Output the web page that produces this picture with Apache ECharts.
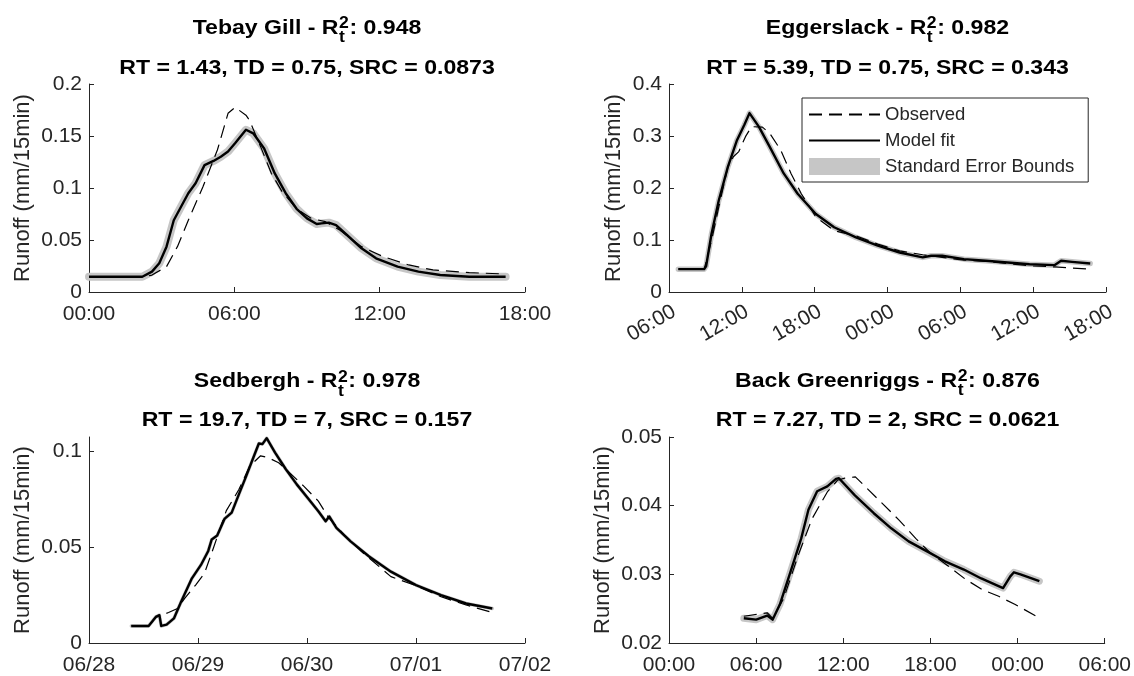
<!DOCTYPE html>
<html><head><meta charset="utf-8">
<script src="https://cdn.jsdelivr.net/npm/echarts@6/dist/echarts.min.js"></script>
<style>html,body{margin:0;padding:0;background:#fff}#c{width:1134px;height:676px}</style>
</head><body><div id="c"></div>
<script>
// ---------- Data ----------
// Tebay Gill (x: hours from 00:00)
const tebayModT = [0, 1, 2.2, 2.6, 2.9, 3.2, 3.5, 3.8, 4.1, 4.4, 4.77, 5.14, 5.44, 5.74, 6.03, 6.48, 6.56, 6.78, 7.23, 7.67, 8.12, 8.57, 9.0, 9.4, 9.6, 9.9, 10.2, 10.65, 11.25, 11.85, 12.74, 13.6, 14.5, 15.7, 17.2];
const tebayModQ = [0.0147, 0.0147, 0.0147, 0.0196, 0.0276, 0.0436, 0.069, 0.082, 0.095, 0.1045, 0.122, 0.126, 0.130, 0.135, 0.143, 0.156, 0.1564, 0.1526, 0.138, 0.114, 0.095, 0.080, 0.0708, 0.0654, 0.066, 0.0667, 0.0644, 0.0548, 0.042, 0.0324, 0.0244, 0.0196, 0.0163, 0.0147, 0.0147];
const tebayObsT = [0, 2.3, 2.6, 3.2, 3.65, 4.1, 4.7, 5.3, 5.74, 6.03, 6.48, 6.63, 7.08, 7.53, 7.97, 8.57, 9.17, 9.76, 10.35, 11.25, 12.15, 13.2, 14.2, 15.7, 17.2];
const tebayObsQ = [0.0147, 0.0147, 0.0163, 0.0244, 0.0436, 0.069, 0.101, 0.1365, 0.1718, 0.1776, 0.170, 0.165, 0.140, 0.114, 0.0965, 0.080, 0.0708, 0.0676, 0.0596, 0.0436, 0.034, 0.026, 0.0212, 0.0186, 0.0173];

// Eggerslack (x: hours from 00:00 of day 1)
const eggModT = [6.77, 8.9, 9.06, 9.5, 10.1, 10.85, 11.6, 12.2, 12.63, 13.4, 14.3, 15.45, 16.6, 18.1, 19.6, 21.4, 23.2, 25, 26.9, 27.6, 28.5, 30.3, 32.1, 33.9, 35.7, 37.75, 38.3, 39.2, 40.7];
const eggModQ = [0.0439, 0.0439, 0.050, 0.1116, 0.176, 0.2406, 0.292, 0.321, 0.344, 0.318, 0.279, 0.228, 0.189, 0.150, 0.1245, 0.105, 0.089, 0.076, 0.0665, 0.0697, 0.0697, 0.0632, 0.060, 0.0568, 0.0535, 0.0516, 0.060, 0.058, 0.0548];
const eggObsT = [6.77, 8.9, 9.5, 10.1, 10.85, 11.3, 11.75, 12.3, 12.8, 13.7, 14.3, 15.2, 16.05, 16.9, 18.1, 19.6, 21.4, 23.2, 25, 26.9, 28.5, 30.3, 32.1, 33.9, 36, 37.75, 40.7];
const eggObsQ = [0.0439, 0.0439, 0.0987, 0.163, 0.2406, 0.26, 0.27, 0.2987, 0.318, 0.317, 0.305, 0.273, 0.228, 0.189, 0.144, 0.118, 0.108, 0.092, 0.079, 0.0716, 0.0665, 0.0613, 0.0587, 0.0548, 0.050, 0.0484, 0.0439];

// Sedbergh (x: days from 06/28)
const sedModT = [0.388, 0.547, 0.613, 0.646, 0.663, 0.712, 0.779, 0.845, 0.944, 1.027, 1.094, 1.126, 1.176, 1.243, 1.309, 1.375, 1.442, 1.508, 1.558, 1.591, 1.63, 1.707, 1.806, 1.906, 2.005, 2.104, 2.171, 2.204, 2.27, 2.4, 2.57, 2.77, 3.0, 3.23, 3.46, 3.7];
const sedModQ = [0.0089, 0.0089, 0.0136, 0.0145, 0.0089, 0.0096, 0.0128, 0.0215, 0.0337, 0.0407, 0.048, 0.054, 0.056, 0.0647, 0.068, 0.0775, 0.087, 0.0967, 0.104, 0.1037, 0.1068, 0.0993, 0.0906, 0.0827, 0.0757, 0.0687, 0.0635, 0.066, 0.060, 0.053, 0.0451, 0.0372, 0.0302, 0.025, 0.0206, 0.018];
const sedObsT = [0.388, 0.547, 0.613, 0.646, 0.73, 0.812, 0.878, 0.978, 1.06, 1.143, 1.26, 1.375, 1.475, 1.574, 1.64, 1.74, 1.84, 1.97, 2.104, 2.2, 2.34, 2.5, 2.77, 3.0, 3.23, 3.46, 3.7];
const sedObsQ = [0.0089, 0.0089, 0.0136, 0.0140, 0.0159, 0.018, 0.0233, 0.0302, 0.0364, 0.0498, 0.069, 0.080, 0.0923, 0.0976, 0.0967, 0.094, 0.0888, 0.0818, 0.074, 0.0652, 0.0565, 0.0477, 0.0346, 0.0299, 0.0241, 0.0198, 0.0159];

// Back Greenriggs (x: hours from 00:00)
const bgModT = [5.15, 6.0, 6.76, 7.13, 7.63, 8.37, 9.1, 9.6, 10.2, 10.9, 11.5, 11.7, 12.8, 14.1, 15.3, 16.5, 17.8, 19.0, 20.3, 21.5, 23.0, 23.5, 23.75, 24.2, 25.5];
const bgModQ = [0.0236, 0.0234, 0.0240, 0.0234, 0.0256, 0.0304, 0.0352, 0.0394, 0.0421, 0.0428, 0.0439, 0.0440, 0.0415, 0.0389, 0.0367, 0.0348, 0.0333, 0.0319, 0.0307, 0.0294, 0.028, 0.0297, 0.0303, 0.0300, 0.0290];
const bgObsT = [5.15, 6.76, 7.13, 7.9, 8.9, 9.85, 10.9, 11.6, 12.1, 12.83, 13.55, 14.7, 15.84, 17.0, 18.0, 19.3, 20.4, 21.55, 22.7, 23.84, 25.55];
const bgObsQ = [0.0239, 0.0244, 0.0236, 0.0265, 0.0328, 0.0381, 0.0420, 0.0437, 0.0440, 0.0442, 0.0427, 0.0403, 0.0379, 0.0352, 0.0331, 0.0311, 0.0293, 0.0278, 0.0268, 0.0256, 0.0236];

// Tick labels
const xLabels1 = ['00:00', '06:00', '12:00', '18:00'];
const xLabels2 = ['06:00', '12:00', '18:00', '00:00', '06:00', '12:00', '18:00'];
const xLabels3 = ['06/28', '06/29', '06/30', '07/01', '07/02'];
const xLabels4 = ['00:00', '06:00', '12:00', '18:00', '00:00', '06:00'];
const yTicks3 = [0, 0.05, 0.1];

// Titles
const stationNames = ['Tebay Gill', 'Eggerslack', 'Sedbergh', 'Back Greenriggs'];
const r2Values = ['0.948', '0.982', '0.978', '0.876'];
const paramLines = ['RT = 1.43, TD = 0.75, SRC = 0.0873', 'RT = 5.39, TD = 0.75, SRC = 0.343', 'RT = 19.7, TD = 7, SRC = 0.157', 'RT = 7.27, TD = 2, SRC = 0.0621'];
const yLabel = 'Runoff (mm/15min)';
const seriesNames = ['Observed', 'Model fit', 'Standard Error Bounds'];

// ---------- Layout ----------
const FONT = '"Liberation Sans", Arial, Helvetica, sans-serif';
const TXT = '#262626';
const grids = [
  {left: 89, top: 84, width: 436, height: 208},
  {left: 669, top: 84, width: 437, height: 208},
  {left: 89, top: 437, width: 436, height: 206},
  {left: 669, top: 437, width: 437, height: 206}
];
const xCfg = [
  {min: 0, max: 18, interval: 6, labels: xLabels1, rotate: 0},
  {min: 6, max: 42, interval: 6, labels: xLabels2, rotate: 30},
  {min: 0, max: 4, interval: 1, labels: xLabels3, rotate: 0},
  {min: 0, max: 30, interval: 6, labels: xLabels4, rotate: 0}
];
const yCfg = [
  {min: 0, max: 0.2, interval: 0.05, gap: 55},
  {min: 0, max: 0.4, interval: 0.1, gap: 44},
  {min: 0, max: 0.1074, interval: 0.05, gap: 55},
  {min: 0.02, max: 0.05, interval: 0.01, gap: 55}
];
const bandWidths = [8, 5.5, 3.5, 7];
const titleY = [[28, 68.5], [28, 68.5], [381.5, 420.5], [381, 420.5]];

const panels = [
  [tebayObsT, tebayObsQ, tebayModT, tebayModQ],
  [eggObsT, eggObsQ, eggModT, eggModQ],
  [sedObsT, sedObsQ, sedModT, sedModQ],
  [bgObsT, bgObsQ, bgModT, bgModQ]
];
const zip = (a, b) => a.map((v, i) => [v, b[i]]);

const xAxes = xCfg.map((c, i) => {
  const lab = {fontSize: 21, color: TXT, fontFamily: FONT, margin: 12,
    formatter: v => { const k = Math.round((v - c.min) / c.interval); return c.labels[k] !== undefined ? c.labels[k] : ''; }};
  if (c.rotate) { lab.rotate = c.rotate; lab.align = 'right'; lab.verticalAlign = 'top'; lab.margin = 9; }
  return {
    type: 'value', gridIndex: i, min: c.min, max: c.max, interval: c.interval,
    axisLine: {show: true, onZero: false, lineStyle: {color: TXT, width: 1}},
    axisTick: {show: true, inside: true, length: 5, lineStyle: {color: TXT}},
    splitLine: {show: false},
    axisLabel: lab
  };
});
const yAxes = yCfg.map((c, i) => {
  const ax = {
    type: 'value', gridIndex: i, min: c.min, max: c.max, interval: c.interval,
    name: yLabel, nameLocation: 'middle', nameGap: c.gap, nameRotate: 90,
    nameTextStyle: {fontSize: 22, color: TXT, fontFamily: FONT},
    axisLine: {show: true, onZero: false, lineStyle: {color: TXT, width: 1}},
    axisTick: {show: true, inside: true, length: 5, lineStyle: {color: TXT}},
    splitLine: {show: false},
    axisLabel: {fontSize: 21, color: TXT, fontFamily: FONT, margin: 7}
  };
  if (i === 2) {
    ax.axisLabel.customValues = yTicks3;
    ax.axisTick.customValues = yTicks3;
  }
  return ax;
});

const series = [];
panels.forEach((p, i) => {
  series.push({type: 'line', name: seriesNames[2], xAxisIndex: i, yAxisIndex: i, data: zip(p[2], p[3]),
    symbol: 'none', silent: true, z: 1,
    lineStyle: {color: '#c6c6c6', width: bandWidths[i], cap: 'round', join: 'round'}});
  series.push({type: 'line', name: seriesNames[0], xAxisIndex: i, yAxisIndex: i, data: zip(p[0], p[1]),
    symbol: 'none', silent: true, z: 2, itemStyle: {color: '#000', opacity: 0},
    lineStyle: {color: '#000', width: 1.2, type: [13, 7]}});
  series.push({type: 'line', name: seriesNames[1], xAxisIndex: i, yAxisIndex: i, data: zip(p[2], p[3]),
    symbol: 'none', silent: true, z: 3, itemStyle: {color: '#000', opacity: 0},
    lineStyle: {color: '#000', width: 2.4, join: 'round'}});
});

// ---------- Titles (with stacked super/subscript) ----------
const mctx = document.createElement('canvas').getContext('2d');
function measure(t, f) { mctx.font = f; return mctx.measureText(t).width; }
const SX = 1.1; // horizontal stretch of the reference text
const fMain = 'bold 21px ' + FONT;
const fSmall = 'bold 16px ' + FONT;
const graphics = [];
grids.forEach((g, i) => {
  const cx = g.left + g.width / 2;
  const [y1, y2] = titleY[i];
  const pre = stationNames[i] + ' - R';
  const post = ': ' + r2Values[i];
  const wPre = measure(pre, fMain) * SX;
  const wS = (Math.max(measure('2', fSmall), measure('t', fSmall)) + 1) * SX;
  const wPost = measure(post, fMain) * SX;
  const x0 = cx - (wPre + wS + wPost) / 2;
  const base = {fill: '#000', verticalAlign: 'middle', align: 'left'};
  graphics.push({type: 'text', x: x0, y: y1, scaleX: SX, style: Object.assign({text: pre, font: fMain}, base)});
  graphics.push({type: 'text', x: x0 + wPre + 0.5, y: y1 - 4, scaleX: SX, style: Object.assign({text: '2', font: fSmall}, base)});
  graphics.push({type: 'text', x: x0 + wPre + 0.5, y: y1 + 10, scaleX: SX, style: Object.assign({text: 't', font: fSmall}, base)});
  graphics.push({type: 'text', x: x0 + wPre + wS, y: y1, scaleX: SX, style: Object.assign({text: post, font: fMain}, base)});
  graphics.push({type: 'text', x: cx, y: y2, scaleX: SX, style: {text: paramLines[i], font: fMain, fill: '#000', align: 'center', verticalAlign: 'middle'}});
});

const chart = echarts.init(document.getElementById('c'), null, {renderer: 'canvas'});
chart.setOption({
  animation: false,
  backgroundColor: '#fff',
  grid: grids,
  xAxis: xAxes,
  yAxis: yAxes,
  series: series,
  graphic: graphics,
  legend: {
    orient: 'vertical', left: 802, top: 98,
    padding: [7, 14, 6, 6],
    backgroundColor: '#fff', borderColor: TXT, borderWidth: 1,
    itemWidth: 71, itemHeight: 17, itemGap: 7, selectedMode: false,
    textStyle: {fontSize: 18.5, color: TXT, fontFamily: FONT},
    data: [
      {name: seriesNames[0], itemStyle: {opacity: 0}},
      {name: seriesNames[1], itemStyle: {opacity: 0}},
      {name: seriesNames[2], icon: 'rect', itemStyle: {color: '#c6c6c6'}}
    ]
  }
});
</script>
</body></html>
